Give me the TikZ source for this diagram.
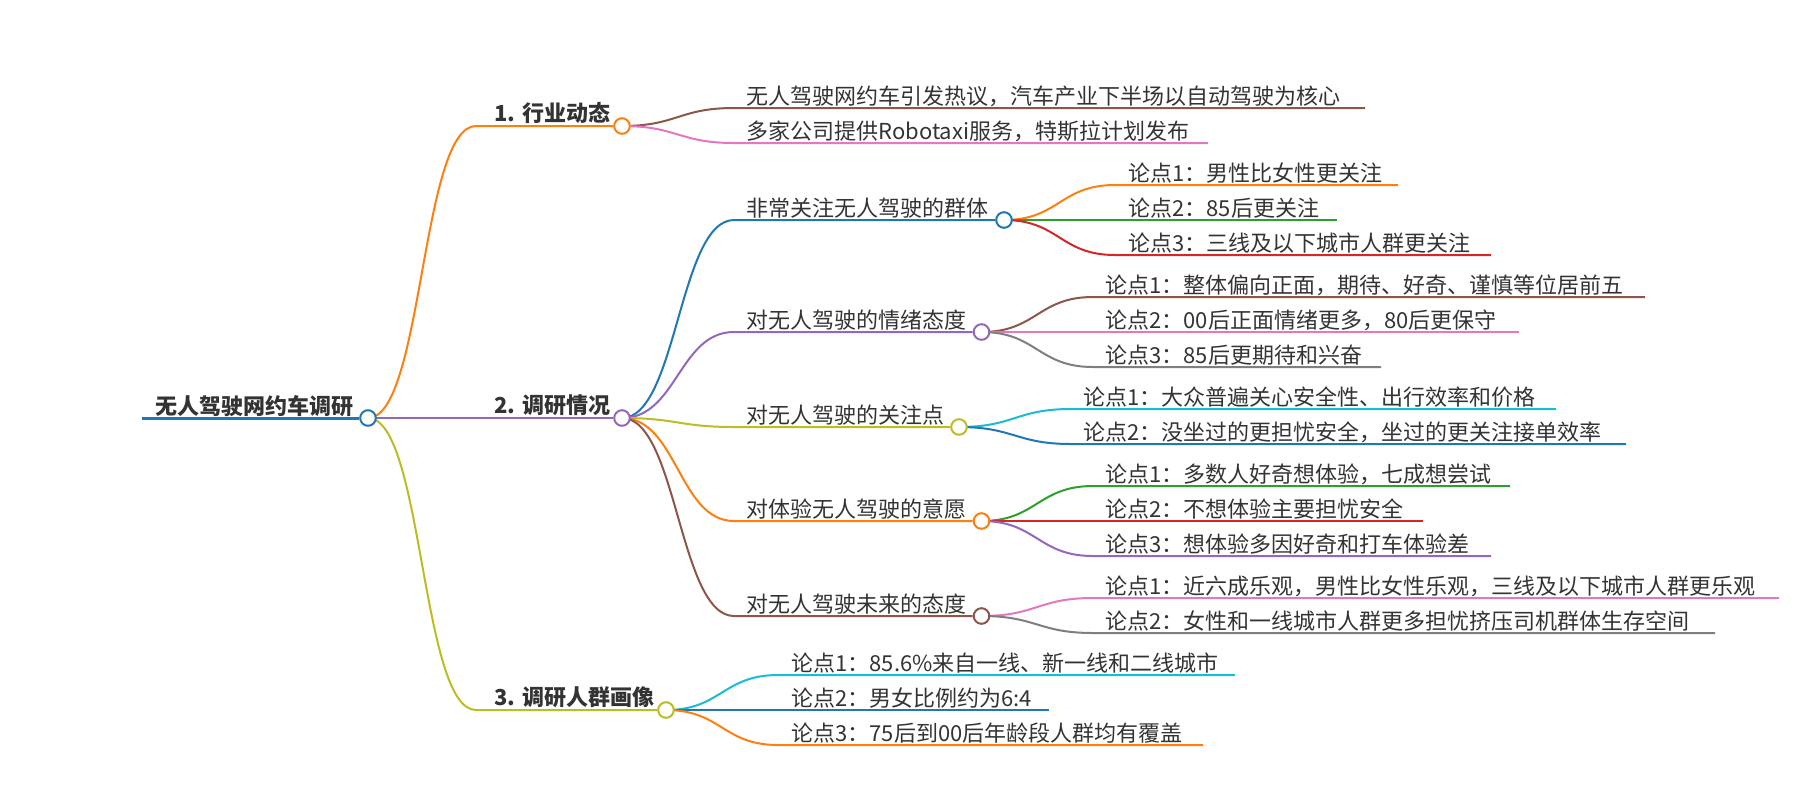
\documentclass[tikz,border=0pt]{standalone}
\usepackage{fontspec}
\setmainfont{Noto Sans CJK SC}
\usetikzlibrary{backgrounds}
\definecolor{mBlue}{HTML}{1F77B4}
\definecolor{mOrange}{HTML}{FF7F0E}
\definecolor{mGreen}{HTML}{2CA02C}
\definecolor{mRed}{HTML}{D62728}
\definecolor{mPurple}{HTML}{9467BD}
\definecolor{mBrown}{HTML}{8C564B}
\definecolor{mPink}{HTML}{E377C2}
\definecolor{mGray}{HTML}{7F7F7F}
\definecolor{mOlive}{HTML}{BCBD22}
\definecolor{mCyan}{HTML}{17BECF}
\definecolor{ink}{HTML}{333333}

\begin{document}
\begin{tikzpicture}[x=0.5pt,y=-0.5pt,
  hub/.style={circle,draw,fill=white,line width=1pt,minimum size=7.8pt,inner sep=0pt},
  topic/.style={anchor=base west,inner sep=0pt,text=ink,font=\fontsize{11}{13}\selectfont\bfseries},
  note/.style={anchor=base west,inner sep=0pt,text=ink,font=\fontsize{11}{13}\selectfont},
  wire/.style={line width=1pt},
  swoop/.style={to path={.. controls +(55,0) and +(-55,0) .. (\tikztotarget)}}]
\useasboundingbox (0,0) rectangle (1800,800);

% root
\coordinate (rootL) at (142,418);
\node[hub,draw=mBlue] (root) at (368,418) {};
\node[topic] (rootT) at (155,414) {无人驾驶网约车调研};

% 1. industry
\coordinate (b1L) at (476,126);
\node[hub,draw=mOrange] (b1) at (622,126) {};
\node[topic] (b1T) at (494,121) {1. 行业动态};
\coordinate (n11L) at (734,108); \coordinate (n11R) at (1365,108);
\coordinate (n12L) at (734,143); \coordinate (n12R) at (1208,143);
\node[note] (n11T) at (746,104) {无人驾驶网约车引发热议，汽车产业下半场以自动驾驶为核心};
\node[note] (n12T) at (746,139) {多家公司提供Robotaxi服务，特斯拉计划发布};

% 2. survey
\coordinate (b2L) at (476,418);
\node[hub,draw=mPurple] (b2) at (622,418) {};
\node[topic] (b2T) at (494,413) {2. 调研情况};
\coordinate (gAL) at (734,220); \node[hub,draw=mBlue] (gA) at (1004,220) {};
\coordinate (gBL) at (734,332); \node[hub,draw=mPurple] (gB) at (981.5,332) {};
\coordinate (gCL) at (734,427); \node[hub,draw=mOlive] (gC) at (959,427) {};
\coordinate (gDL) at (734,521); \node[hub,draw=mOrange] (gD) at (981.5,521) {};
\coordinate (gEL) at (734,616); \node[hub,draw=mBrown] (gE) at (981.5,616) {};
\node[note] (gAT) at (746,216) {非常关注无人驾驶的群体};
\node[note] (gBT) at (746,328) {对无人驾驶的情绪态度};
\node[note] (gCT) at (746,423) {对无人驾驶的关注点};
\node[note] (gDT) at (746,517) {对体验无人驾驶的意愿};
\node[note] (gET) at (746,612) {对无人驾驶未来的态度};

\coordinate (a1L) at (1115,185); \coordinate (a1R) at (1398,185);
\coordinate (a2L) at (1115,220); \coordinate (a2R) at (1337,220);
\coordinate (a3L) at (1115,255); \coordinate (a3R) at (1491,255);
\node[note] (a1T) at (1128,181) {论点1：男性比女性更关注};
\node[note] (a2T) at (1128,216) {论点2：85后更关注};
\node[note] (a3T) at (1128,251) {论点3：三线及以下城市人群更关注};

\coordinate (c1L) at (1093,297); \coordinate (c1R) at (1645,297);
\coordinate (c2L) at (1093,332); \coordinate (c2R) at (1519,332);
\coordinate (c3L) at (1093,367); \coordinate (c3R) at (1381,367);
\node[note] (c1T) at (1105,293) {论点1：整体偏向正面，期待、好奇、谨慎等位居前五};
\node[note] (c2T) at (1105,328) {论点2：00后正面情绪更多，80后更保守};
\node[note] (c3T) at (1105,363) {论点3：85后更期待和兴奋};

\coordinate (f1L) at (1071,409); \coordinate (f1R) at (1556,409);
\coordinate (f2L) at (1071,444); \coordinate (f2R) at (1626,444);
\node[note] (f1T) at (1083,405) {论点1：大众普遍关心安全性、出行效率和价格};
\node[note] (f2T) at (1083,440) {论点2：没坐过的更担忧安全，坐过的更关注接单效率};

\coordinate (w1L) at (1093,486); \coordinate (w1R) at (1510,486);
\coordinate (w2L) at (1093,521); \coordinate (w2R) at (1423,521);
\coordinate (w3L) at (1093,556); \coordinate (w3R) at (1491,556);
\node[note] (w1T) at (1105,482) {论点1：多数人好奇想体验，七成想尝试};
\node[note] (w2T) at (1105,517) {论点2：不想体验主要担忧安全};
\node[note] (w3T) at (1105,552) {论点3：想体验多因好奇和打车体验差};

\coordinate (u1L) at (1093,598); \coordinate (u1R) at (1779,598);
\coordinate (u2L) at (1093,633); \coordinate (u2R) at (1715,633);
\node[note] (u1T) at (1105,594) {论点1：近六成乐观，男性比女性乐观，三线及以下城市人群更乐观};
\node[note] (u2T) at (1105,629) {论点2：女性和一线城市人群更多担忧挤压司机群体生存空间};

% 3. people
\coordinate (b3L) at (476,710);
\node[hub,draw=mOlive] (b3) at (666,710) {};
\node[topic] (b3T) at (494,705) {3. 调研人群画像};
\coordinate (p1L) at (778,675); \coordinate (p1R) at (1235,675);
\coordinate (p2L) at (778,710); \coordinate (p2R) at (1049,710);
\coordinate (p3L) at (778,745); \coordinate (p3R) at (1203,745);
\node[note] (p1T) at (791,671) {论点1：85.6\%来自一线、新一线和二线城市};
\node[note] (p2T) at (791,706) {论点2：男女比例约为6:4};
\node[note] (p3T) at (791,741) {论点3：75后到00后年龄段人群均有覆盖};

\begin{scope}[on background layer]
\draw[mBlue,line width=1.5pt] (rootL) -- (root);
\draw[mOrange,wire] (root.center) to[swoop] (b1L) -- (b1);
\draw[mPurple,wire] (root.center) to[swoop] (b2L) -- (b2);
\draw[mOlive,wire] (root.center) to[swoop] (b3L) -- (b3);

\draw[mBrown,wire] (b1.center) to[swoop] (n11L) -- (n11R);
\draw[mPink,wire] (b1.center) to[swoop] (n12L) -- (n12R);

\draw[mBlue,wire] (b2.center) to[swoop] (gAL) -- (gA);
\draw[mPurple,wire] (b2.center) to[swoop] (gBL) -- (gB);
\draw[mOlive,wire] (b2.center) to[swoop] (gCL) -- (gC);
\draw[mOrange,wire] (b2.center) to[swoop] (gDL) -- (gD);
\draw[mBrown,wire] (b2.center) to[swoop] (gEL) -- (gE);

\draw[mOrange,wire] (gA.center) to[swoop] (a1L) -- (a1R);
\draw[mGreen,wire] (gA.center) to[swoop] (a2L) -- (a2R);
\draw[mRed,wire] (gA.center) to[swoop] (a3L) -- (a3R);

\draw[mBrown,wire] (gB.center) to[swoop] (c1L) -- (c1R);
\draw[mPink,wire] (gB.center) to[swoop] (c2L) -- (c2R);
\draw[mGray,wire] (gB.center) to[swoop] (c3L) -- (c3R);

\draw[mCyan,wire] (gC.center) to[swoop] (f1L) -- (f1R);
\draw[mBlue,wire] (gC.center) to[swoop] (f2L) -- (f2R);

\draw[mGreen,wire] (gD.center) to[swoop] (w1L) -- (w1R);
\draw[mRed,wire] (gD.center) to[swoop] (w2L) -- (w2R);
\draw[mPurple,wire] (gD.center) to[swoop] (w3L) -- (w3R);

\draw[mPink,wire] (gE.center) to[swoop] (u1L) -- (u1R);
\draw[mGray,wire] (gE.center) to[swoop] (u2L) -- (u2R);

\draw[mCyan,wire] (b3.center) to[swoop] (p1L) -- (p1R);
\draw[mBlue,wire] (b3.center) to[swoop] (p2L) -- (p2R);
\draw[mOrange,wire] (b3.center) to[swoop] (p3L) -- (p3R);
\end{scope}
\end{tikzpicture}
\end{document}
